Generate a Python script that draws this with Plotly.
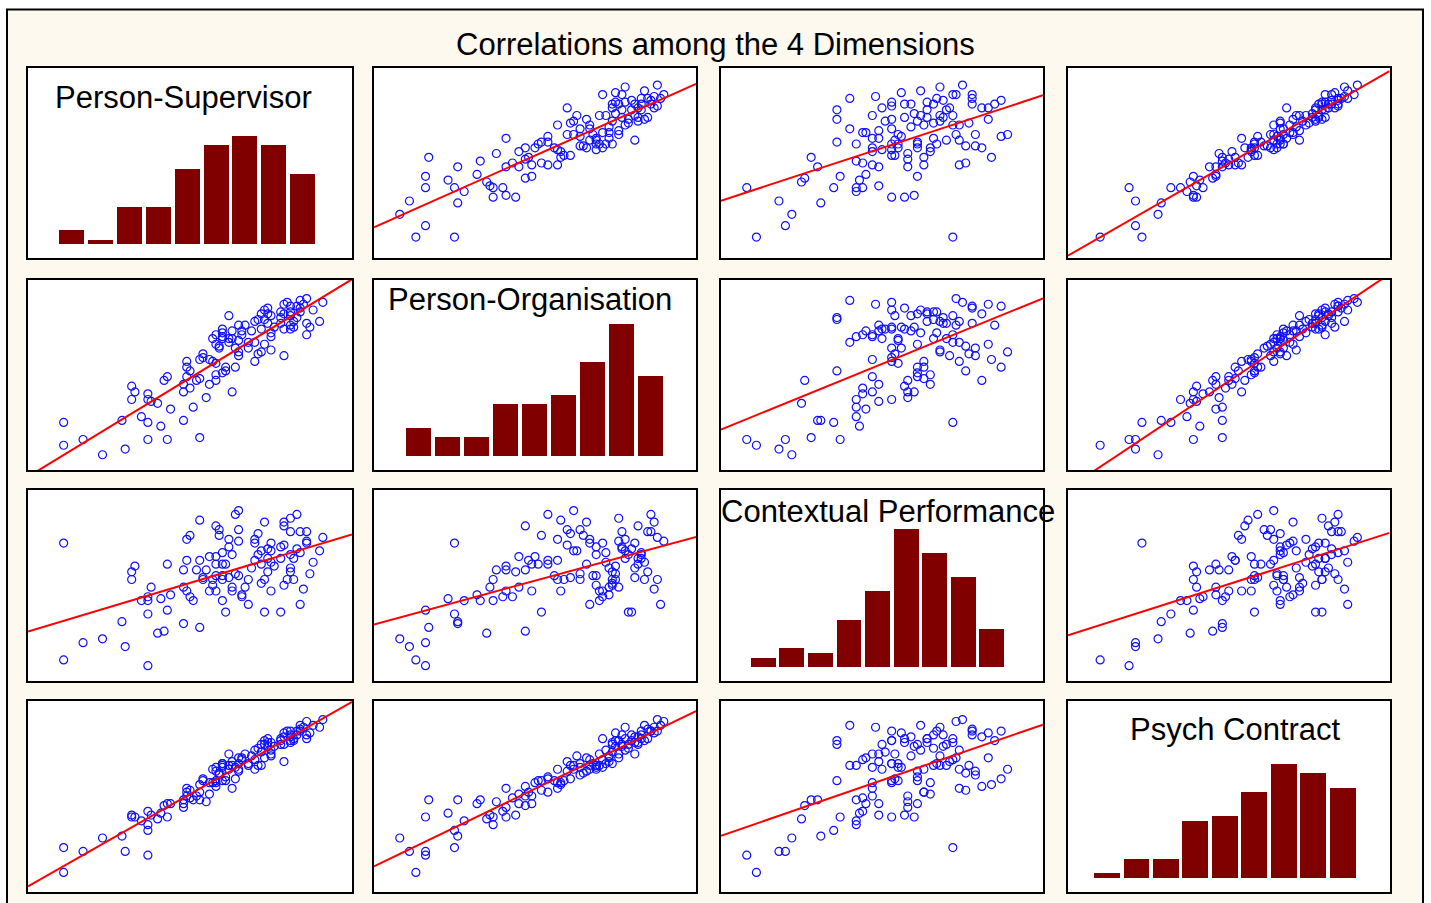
import numpy as np
import plotly.graph_objects as go

W, H = 1431, 903

TITLE = "Correlations among the 4 Dimensions"
VAR_NAMES = ["Person-Supervisor", "Person-Organisation", "Contextual Performance", "Psych Contract"]

person_supervisor = [
    23, 30, 11, 17, 43, 37, 53, 41, 11, 37,
    48, 29, 35, 44, 51, 40, 38, 37, 32, 55,
    37, 48, 63, 33, 50, 32, 48, 56, 52, 58,
    42, 43, 53, 49, 58, 60, 50, 61, 61, 64,
    49, 58, 49, 57, 70, 56, 53, 54, 54, 65,
    79, 71, 75, 72, 65, 64, 68, 59, 58, 73,
    68, 70, 65, 60, 57, 62, 60, 58, 86, 75,
    66, 60, 66, 63, 60, 75, 81, 72, 76, 87,
    82, 67, 65, 86, 78, 74, 90, 82, 73, 78,
    83, 75, 62, 81, 72, 79, 84, 81, 78, 73,
    88, 84, 74, 81, 83, 85, 79, 91, 80, 84,
    86, 69, 70, 71, 63, 62, 59, 79, 81, 74,
]
person_organisation = [
    8, 11, 13, 16, 16, 16, 17, 23, 25, 25,
    26, 26, 28, 32, 33, 35, 36, 37, 37, 38,
    40, 41, 41, 41, 43, 44, 45, 45, 47, 47,
    47, 49, 48, 49, 50, 51, 52, 52, 54, 54,
    54, 56, 57, 57, 57, 58, 58, 59, 61, 60,
    60, 61, 63, 62, 62, 64, 64, 65, 66, 66,
    67, 67, 68, 69, 69, 69, 70, 71, 71, 70,
    71, 72, 73, 73, 74, 72, 74, 74, 75, 75,
    75, 76, 76, 77, 77, 77, 78, 78, 79, 80,
    80, 81, 81, 81, 82, 82, 83, 83, 83, 84,
    84, 85, 85, 86, 86, 87, 87, 88, 88, 89,
    90, 73, 78, 79, 69, 67, 64, 74, 76, 82,
]
contextual_performance = [
    22, 18, 11, 20, 37, 8, 28, 43, 72, 35,
    30, 31, 42, 45, 42, 25, 49, 42, 53, 58,
    44, 58, 47, 60, 44, 57, 49, 65, 58, 81,
    26, 61, 63, 47, 65, 61, 76, 36, 61, 87,
    63, 55, 74, 53, 63, 47, 84, 53, 54, 79,
    71, 77, 68, 68, 89, 56, 53, 76, 61, 83,
    40, 72, 55, 55, 50, 70, 42, 47, 72, 47,
    44, 67, 45, 49, 53, 62, 57, 51, 60, 56,
    53, 49, 73, 78, 70, 69, 68, 64, 36, 36,
    69, 72, 54, 59, 61, 81, 67, 66, 64, 53,
    62, 78, 57, 78, 87, 48, 83, 75, 53, 40,
    73, 59, 74, 66, 66, 74, 79, 50, 85, 64,
]
psych_contract = [
    28, 21, 10, 21, 39, 19, 48, 41, 23, 32,
    48, 29, 37, 46, 48, 38, 40, 35, 39, 47,
    42, 44, 54, 39, 49, 40, 46, 51, 50, 55,
    45, 46, 52, 50, 57, 58, 53, 58, 60, 59,
    52, 58, 54, 57, 64, 57, 56, 58, 59, 63,
    68, 66, 71, 66, 64, 65, 67, 62, 63, 70,
    66, 69, 67, 65, 64, 66, 66, 65, 80, 72,
    69, 67, 70, 68, 67, 74, 78, 73, 76, 83,
    79, 72, 70, 82, 77, 76, 86, 80, 77, 79,
    82, 78, 72, 81, 77, 81, 84, 82, 80, 79,
    87, 85, 80, 84, 84, 86, 83, 90, 84, 87,
    89, 71, 74, 75, 66, 64, 61, 77, 79, 78,
]

# ---- histogram bars on the diagonal (9 bins each) ----
ps_counts = [3, 1, 8, 8, 16, 21, 23, 21, 15]
po_counts = [6, 4, 4, 11, 11, 13, 20, 28, 17]
cp_counts = [2, 4, 3, 10, 16, 29, 24, 19, 8]
pc_counts = [1, 4, 4, 12, 13, 18, 24, 22, 19]
hist_bin_start = [9.1, 9.3, 8.7, 7.5]
hist_bin_width = [8.9, 9.0, 8.87, 9.17]

data = [person_supervisor, person_organisation, contextual_performance, psych_contract]
counts = [ps_counts, po_counts, cp_counts, pc_counts]

# ---- layout geometry (pixels) ----
col_px = [(28, 352), (374, 696), (721, 1043), (1068, 1389.5)]
row_px = [(68, 258), (279.5, 470), (489.5, 681), (700.5, 891.5)]
label_px = [(183, 98), (530, 300), (888, 511), (1235, 729)]
title_px = (715, 45)

FONT = "Liberation Sans, Arial, sans-serif"
BAR_COLOR = "#800000"
PT_COLOR = "#1010ff"
LINE_COLOR = "#ff0000"
CREAM = "#fdf9ee"


def px_x(x):
    return x / W


def px_y(y):
    return 1 - y / H


fig = go.Figure()
layout = dict(
    width=W, height=H,
    margin=dict(l=0, r=0, t=0, b=0),
    paper_bgcolor="white",
    plot_bgcolor="rgba(0,0,0,0)",
    showlegend=False,
    bargap=0,
)

shapes = [
    dict(type="rect", xref="paper", yref="paper",
         x0=px_x(7), x1=px_x(1423), y0=-0.05, y1=px_y(9.5),
         fillcolor=CREAM, line=dict(color="black", width=2), layer="below"),
]

for i in range(4):
    for j in range(4):
        k = i * 4 + j + 1
        xa = "xaxis" if k == 1 else f"xaxis{k}"
        ya = "yaxis" if k == 1 else f"yaxis{k}"
        xr = "x" if k == 1 else f"x{k}"
        yr = "y" if k == 1 else f"y{k}"
        l, r = col_px[j]
        t, b = row_px[i]
        common = dict(showticklabels=False, showgrid=False, zeroline=False,
                      ticks="", showline=True, mirror=True,
                      linecolor="black", linewidth=2, fixedrange=True)
        layout[xa] = dict(domain=[px_x(l), px_x(r)], anchor=yr, range=[0, 100], **common)
        shapes.append(dict(type="rect", xref="paper", yref="paper",
                           x0=px_x(l), x1=px_x(r), y0=px_y(b), y1=px_y(t),
                           fillcolor="white", line=dict(width=0), layer="below"))
        if i == j:
            layout[ya] = dict(domain=[px_y(b), px_y(t)], anchor=xr, range=[-2.9, 37.4], **common)
            start, width = hist_bin_start[i], hist_bin_width[i]
            centers = [start + width * (n + 0.5) for n in range(len(counts[i]))]
            fig.add_trace(go.Bar(x=centers, y=counts[i], width=width * 0.87,
                                 marker=dict(color=BAR_COLOR, line=dict(width=0)),
                                 xaxis=xr, yaxis=yr, hoverinfo="skip"))
        else:
            layout[ya] = dict(domain=[px_y(b), px_y(t)], anchor=xr, range=[0, 100], **common)
            xv = np.array(data[j], dtype=float)
            yv = np.array(data[i], dtype=float)
            fig.add_trace(go.Scatter(x=xv, y=yv, mode="markers",
                                     marker=dict(symbol="circle-open", size=8, color=PT_COLOR,
                                                 line=dict(width=1.2, color=PT_COLOR)),
                                     xaxis=xr, yaxis=yr, cliponaxis=True, hoverinfo="skip"))
            slope, intercept = np.polyfit(xv, yv, 1)
            lx = np.array([0.0, 100.0])
            fig.add_trace(go.Scatter(x=lx, y=intercept + slope * lx, mode="lines",
                                     line=dict(color=LINE_COLOR, width=2),
                                     xaxis=xr, yaxis=yr, hoverinfo="skip"))

annotations = [dict(text=TITLE, xref="paper", yref="paper",
                    x=px_x(title_px[0]), y=px_y(title_px[1]),
                    xanchor="center", yanchor="middle", showarrow=False,
                    font=dict(family=FONT, size=31, color="black"))]
for n, name in enumerate(VAR_NAMES):
    cx, cy = label_px[n]
    annotations.append(dict(text=name, xref="paper", yref="paper",
                            x=px_x(cx), y=px_y(cy), xanchor="center", yanchor="middle",
                            showarrow=False, font=dict(family=FONT, size=31, color="black")))

layout["shapes"] = shapes
layout["annotations"] = annotations
fig.update_layout(**layout)
fig.write_html("out.html",
               config={"displayModeBar": False, "staticPlot": True},
               post_script="document.body.style.margin='0';document.body.style.padding='0';")
